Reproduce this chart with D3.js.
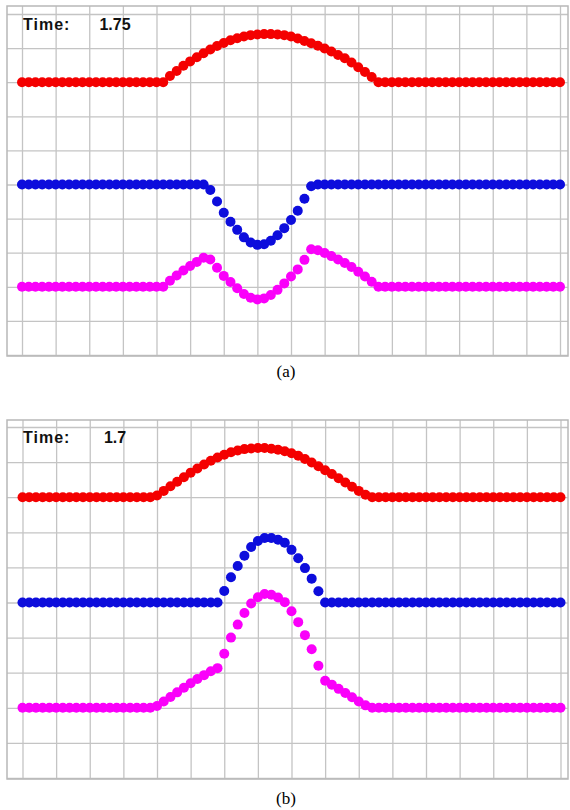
<!DOCTYPE html>
<html>
<head>
<meta charset="utf-8">
<script src="https://cdn.jsdelivr.net/npm/d3@7"></script>
<style>
  body { margin: 0; background: #fff; }
  .grid line { stroke: #c4c4c4; stroke-width: 1.3; }
  .grid path { display: none; }
  .frame { fill: none; stroke: #b8b8b8; stroke-width: 1.5; }
</style>
</head>
<body>
<div id="chart"></div>
<script>
// Grid columns / rows (in grid units)
const gridCols = [0,1,2,3,4,5,6,7,8,9,10,11,12,13,14,15,16];
const gridRows = [0,1,2,3,4,5,6,7,8,9,10];

// Each trace sits on its own grid row
const baseRed = 8, baseBlue = 5, baseMagenta = 2;

// Panel (a) displacement values, 81 samples from x=0 to x=16
const redA = [0,0,0,0,0,0,0,0,0,0,0,0,0,0,0,0,0,0,0,0,0,0,
  .18,.33,.48,.61,.73,.85,.96,1.06,1.15,1.23,1.29,1.34,1.38,1.40,1.41,1.41,1.40,1.38,1.34,1.28,1.21,1.14,1.07,.99,.90,.80,.70,.58,.44,.30,.15,
  0,0,0,0,0,0,0,0,0,0,0,0,0,0,0,0,0,0,0,0,0,0,0,0,0,0,0,0];
const blueA = [0,0,0,0,0,0,0,0,0,0,0,0,0,0,0,0,0,0,0,0,0,0,0,0,0,0,0,0,
  -.16,-.50,-.83,-1.09,-1.33,-1.55,-1.70,-1.77,-1.75,-1.65,-1.49,-1.28,-1.04,-.77,-.42,-.05,
  0,0,0,0,0,0,0,0,0,0,0,0,0,0,0,0,0,0,0,0,0,0,0,0,0,0,0,0,0,0,0,0,0,0,0,0,0];
const magentaA = [0,0,0,0,0,0,0,0,0,0,0,0,0,0,0,0,0,0,0,0,0,0,
  .18,.33,.48,.61,.73,.85,.80,.56,.32,.14,-.04,-.21,-.32,-.37,-.34,-.24,-.09,.10,.30,.51,.79,1.10,1.07,.99,.90,.80,.70,.58,.44,.30,.15,
  0,0,0,0,0,0,0,0,0,0,0,0,0,0,0,0,0,0,0,0,0,0,0,0,0,0,0,0];

// Panel (b)
const redB = [0,0,0,0,0,0,0,0,0,0,0,0,0,0,0,0,0,0,0,0,
  .05,.18,.31,.44,.57,.70,.82,.93,1.04,1.13,1.21,1.28,1.33,1.37,1.39,1.40,1.40,1.38,1.35,1.31,1.25,1.18,1.09,.99,.88,.77,.66,.54,.42,.30,.18,.07,
  0,0,0,0,0,0,0,0,0,0,0,0,0,0,0,0,0,0,0,0,0,0,0,0,0,0,0,0,0];
const blueB = [0,0,0,0,0,0,0,0,0,0,0,0,0,0,0,0,0,0,0,0,0,0,0,0,0,0,0,0,0,0,
  .33,.72,1.04,1.33,1.58,1.75,1.84,1.84,1.79,1.70,1.50,1.26,.98,.68,.32,
  0,0,0,0,0,0,0,0,0,0,0,0,0,0,0,0,0,0,0,0,0,0,0,0,0,0,0,0,0,0,0,0,0,0,0,0];
const magentaB = [0,0,0,0,0,0,0,0,0,0,0,0,0,0,0,0,0,0,0,0,
  .05,.18,.31,.44,.57,.70,.82,.93,1.04,1.13,1.54,2.00,2.37,2.70,2.97,3.15,3.24,3.22,3.14,3.01,2.75,2.44,2.07,1.67,1.20,.77,.66,.54,.42,.30,.18,.07,
  0,0,0,0,0,0,0,0,0,0,0,0,0,0,0,0,0,0,0,0,0,0,0,0,0,0,0,0,0];

const timeA = "1.75", timeB = "1.7";
const captionA = "(a)", captionB = "(b)";

// sample positions along x (0, 0.2, ... 16)
const xs = redA.map((d, i) => i / 5);

const W = 570, H = 810;
const svg = d3.select("#chart").append("svg")
  .attr("width", W)
  .attr("height", H);

// soft edge like the original screenshot
svg.append("defs").append("filter")
  .attr("id", "soft")
  .append("feGaussianBlur")
  .attr("stdDeviation", 0.6);

const panels = [
  { top: 6, bottom: 356, gx: [22, 560], gy: [355, 14], time: timeA, cap: captionA, capY: 377, timeY: 30,
    series: [[redA, baseRed, "#f40000"], [blueA, baseBlue, "#0808dc"], [magentaA, baseMagenta, "#fa00fa"]] },
  { top: 420, bottom: 779, gx: [22.5, 560.5], gy: [778, 427], time: timeB, cap: captionB, capY: 804, timeY: 443,
    series: [[redB, baseRed, "#f40000"], [blueB, baseBlue, "#0808dc"], [magentaB, baseMagenta, "#fa00fa"]] }
];

const frameL = 7, frameR = 568;

panels.forEach(p => {
  const x = d3.scaleLinear().domain([0, 16]).range(p.gx);
  const y = d3.scaleLinear().domain([0, 10]).range(p.gy);
  const g = svg.append("g");

  // vertical grid lines
  g.append("g")
    .attr("class", "grid")
    .attr("transform", "translate(0," + p.bottom + ")")
    .call(d3.axisBottom(x).tickValues(gridCols).tickSize(-(p.bottom - p.top)).tickFormat(""));

  // horizontal grid lines
  g.append("g")
    .attr("class", "grid")
    .attr("transform", "translate(" + frameL + ",0)")
    .call(d3.axisLeft(y).tickValues(gridRows).tickSize(-(frameR - frameL)).tickFormat(""));

  g.append("rect")
    .attr("class", "frame")
    .attr("x", frameL)
    .attr("y", p.top)
    .attr("width", frameR - frameL)
    .attr("height", p.bottom - p.top);

  // time label
  g.append("text")
    .attr("x", 23)
    .attr("y", p.timeY)
    .attr("font-family", "Liberation Sans, Arial, sans-serif")
    .attr("font-weight", "bold")
    .attr("font-size", 16)
    .attr("letter-spacing", 1)
    .attr("fill", "#111")
    .text("Time:");
  g.append("text")
    .attr("x", 115)
    .attr("y", p.timeY)
    .attr("text-anchor", "middle")
    .attr("font-family", "Liberation Sans, Arial, sans-serif")
    .attr("font-weight", "bold")
    .attr("font-size", 16)
    .attr("fill", "#111")
    .text(p.time);

  // dotted traces
  p.series.forEach(([vals, base, color]) => {
    g.append("g")
      .attr("filter", "url(#soft)")
      .selectAll("circle")
      .data(vals)
      .enter().append("circle")
      .attr("cx", (d, i) => x(xs[i]))
      .attr("cy", d => y(base + d))
      .attr("r", 5)
      .attr("fill", color);
  });

  // caption
  svg.append("text")
    .attr("x", 286)
    .attr("y", p.capY)
    .attr("text-anchor", "middle")
    .attr("font-family", "Liberation Serif, Times New Roman, serif")
    .attr("font-size", 17)
    .attr("fill", "#000")
    .text(p.cap);
});
</script>
</body>
</html>
